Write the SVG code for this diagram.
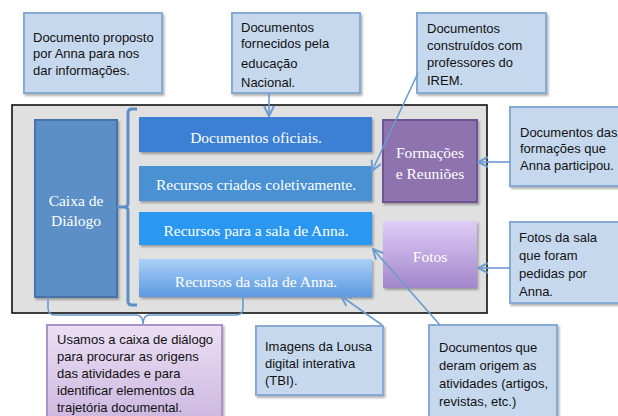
<svg xmlns="http://www.w3.org/2000/svg" width="618" height="416" viewBox="0 0 618 416">
<defs>
<style>
.call{fill:#c6d8ee;stroke:#86aad4;stroke-width:2}
.ct{font-family:"Liberation Sans",Arial,sans-serif;font-size:13px;fill:#111}
.bt{font-family:"Liberation Serif","Times New Roman",serif;font-size:15.5px;fill:#fff;text-anchor:middle}
.con{fill:none;stroke:#6b9bd0;stroke-width:1.6}
</style>
<marker id="ah" viewBox="0 0 12 12" refX="11" refY="6" markerWidth="12" markerHeight="12" markerUnits="userSpaceOnUse" orient="auto">
<polyline points="1,1 11,6 1,11" fill="none" stroke="#6b9bd0" stroke-width="2"/>
</marker>
<linearGradient id="gRec" x1="0" y1="0" x2="0" y2="1"><stop offset="0" stop-color="#abcff8"/><stop offset="1" stop-color="#5b99df"/></linearGradient>
<linearGradient id="gFot" x1="0" y1="0" x2="0" y2="1"><stop offset="0" stop-color="#dfcdf7"/><stop offset="1" stop-color="#a286cb"/></linearGradient>
<linearGradient id="gUs" x1="0" y1="0" x2="0" y2="1"><stop offset="0" stop-color="#ebdff4"/><stop offset="1" stop-color="#cbb6df"/></linearGradient>
<filter id="sh" x="-10%" y="-10%" width="125%" height="130%"><feDropShadow dx="1.5" dy="2" stdDeviation="1.2" flood-color="#000" flood-opacity="0.3"/></filter>
</defs>

<rect x="12" y="105" width="475" height="208" fill="#e0e0e0" stroke="#111" stroke-width="1.6"/>

<g id="caixa"><rect x="35" y="120" width="82" height="177" fill="#5c8fc6" stroke="#4873a6" stroke-width="2" filter="url(#sh)"/><text class="bt" x="76" y="206">Caixa de</text><text class="bt" x="76" y="226">Diálogo</text></g>

<g id="oficiais"><rect x="139" y="117" width="233" height="35" fill="#3b80d4" filter="url(#sh)"/><text class="bt" x="256" y="143">Documentos oficiais.</text></g>
<g id="coletivos"><rect x="139" y="166" width="233" height="35" fill="#4a91d2" filter="url(#sh)"/><text class="bt" x="256" y="190">Recursos criados coletivamente.</text></g>
<g id="para-sala"><rect x="139" y="212" width="233" height="33" fill="#2a98f0" filter="url(#sh)"/><text class="bt" x="256" y="236">Recursos para a sala de Anna.</text></g>
<g id="da-sala"><rect x="139" y="259" width="233" height="38" fill="url(#gRec)" filter="url(#sh)"/><text class="bt" x="256" y="287">Recursos da sala de Anna.</text></g>

<g id="formacoes"><rect x="383" y="120" width="94" height="82" fill="#8e73af" stroke="#6e5591" stroke-width="2" filter="url(#sh)"/><text class="bt" x="430" y="158">Formações</text><text class="bt" x="430" y="179">e Reuniões</text></g>
<g id="fotos"><rect x="383" y="221" width="94" height="67" fill="url(#gFot)" filter="url(#sh)"/><text class="bt" x="430" y="262">Fotos</text></g>

<g id="c-proposto"><rect class="call" x="24" y="13" width="138" height="80" filter="url(#sh)"/><text class="ct" x="33" y="42">Documento proposto</text><text class="ct" x="33" y="58">por Anna para nos</text><text class="ct" x="33" y="75">dar informações.</text></g>
<g id="c-fornecidos"><rect class="call" x="232" y="13" width="128" height="80" filter="url(#sh)"/><text class="ct" x="241" y="32">Documentos</text><text class="ct" x="241" y="48">fornecidos pela</text><text class="ct" x="241" y="68">educação</text><text class="ct" x="241" y="87">Nacional.</text></g>
<g id="c-construidos"><rect class="call" x="417" y="13" width="129" height="80" filter="url(#sh)"/><text class="ct" x="427" y="33">Documentos</text><text class="ct" x="427" y="50">construídos com</text><text class="ct" x="427" y="67">professores do</text><text class="ct" x="427" y="85">IREM.</text></g>
<g id="c-formacoes"><rect class="call" x="510" y="107" width="112" height="79" filter="url(#sh)"/><text class="ct" x="520" y="137">Documentos das</text><text class="ct" x="520" y="153">formações que</text><text class="ct" x="520" y="170">Anna participou.</text></g>
<g id="c-fotos"><rect class="call" x="510" y="222" width="112" height="81" filter="url(#sh)"/><text class="ct" x="519" y="242">Fotos da sala</text><text class="ct" x="519" y="260">que foram</text><text class="ct" x="519" y="278">pedidas por</text><text class="ct" x="519" y="296">Anna.</text></g>
<g id="c-usamos"><rect x="47" y="325" width="175" height="100" fill="url(#gUs)" stroke="#a892c6" stroke-width="2" filter="url(#sh)"/><text class="ct" x="57" y="344">Usamos a caixa de diálogo</text><text class="ct" x="57" y="361">para procurar as origens</text><text class="ct" x="57" y="378">das atividades e para</text><text class="ct" x="57" y="395">identificar elementos da</text><text class="ct" x="57" y="412">trajetória documental.</text></g>
<g id="c-imagens"><rect class="call" x="256" y="326" width="127" height="69" filter="url(#sh)"/><text class="ct" x="265" y="351">Imagens da Lousa</text><text class="ct" x="265" y="368">digital interativa</text><text class="ct" x="265" y="385">(TBI).</text></g>
<g id="c-origem"><rect class="call" x="429" y="325" width="128" height="100" filter="url(#sh)"/><text class="ct" x="439" y="352">Documentos que</text><text class="ct" x="439" y="370">deram origem as</text><text class="ct" x="439" y="388">atividades (artigos,</text><text class="ct" x="439" y="406">revistas, etc.)</text></g>

<g id="connectors">
<path d="M137,109 H132 Q128,109 128,113 V203 Q128,207 124,207 H117 M124,207 Q128,207 128,211 V301 Q128,305 132,305 H137" fill="none" stroke="#5c8fc6" stroke-width="3"/>
<path class="con" d="M48,297 V308 Q48,315 55,315 H136 Q143,315 143,324 Q143,315 150,315 H236 Q243,315 243,308 V297" stroke-width="2"/>
<line class="con" x1="269" y1="93" x2="269" y2="116" marker-end="url(#ah)"/>
<line class="con" x1="418" y1="73" x2="372" y2="171" marker-end="url(#ah)"/>
<line class="con" x1="510" y1="162" x2="478" y2="162" marker-end="url(#ah)"/>
<line class="con" x1="510" y1="268" x2="478" y2="268" marker-end="url(#ah)"/>
<line class="con" x1="382" y1="325" x2="341" y2="296" marker-end="url(#ah)"/>
<line class="con" x1="440" y1="325" x2="373" y2="249" marker-end="url(#ah)"/>
</g>
</svg>
